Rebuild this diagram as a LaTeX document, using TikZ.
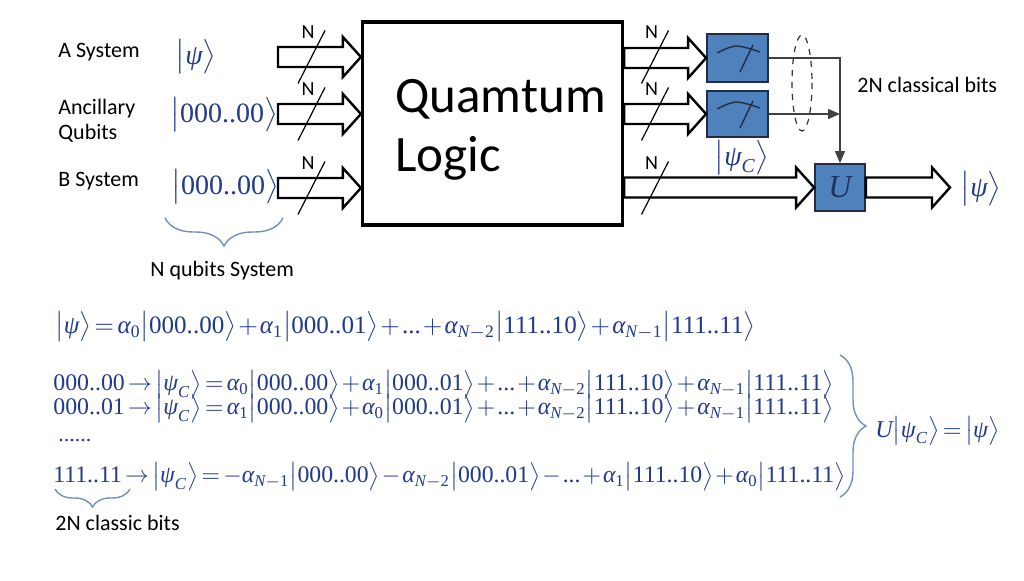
\documentclass[tikz,border=0pt]{standalone}
\usepackage{amsmath}
\usepackage{fontspec}
\setmainfont{Carlito}
\newfontfamily\tms{Liberation Serif}
\usetikzlibrary{calc,arrows.meta,decorations.pathreplacing}
\definecolor{mblue}{RGB}{32,58,140}
\definecolor{boxfill}{RGB}{79,129,189}
\definecolor{boxline}{RGB}{35,45,65}
\definecolor{bracecol}{RGB}{110,145,190}
\newcommand\ket[1]{\bigl|#1\bigr\rangle}
\newcommand\tx[1]{\text{\tms #1}}
\newcommand\ti[1]{\text{\tms\itshape #1}}
\newcommand\gp{\ti{ψ}}
\newcommand\ga{\ti{α}}
\newcommand\tight{\thickmuskip=2.5mu\medmuskip=1.5mu}
\newcommand\fatarrow[2]{\path[fatarrow] let \p1=(#1), \p2=(#2) in
  (\x1,\y1-5pt) -- (\x2-9pt,\y1-5pt) -- (\x2-9pt,\y1-10pt) -- (\x2,\y1)
  -- (\x2-9pt,\y1+10pt) -- (\x2-9pt,\y1+5pt) -- (\x1,\y1+5pt) -- cycle;}
\newcommand\nslash[3]{\draw[slashline] (#2-13.5,#3+26.5) -- (#2+13.5,#3-26.5);
  \node[nlabel] (#1) at (#2-3.5,#3-25) {N};}
\begin{document}
\begin{tikzpicture}[x=0.5pt,y=-0.5pt,
  fatarrow/.style={draw=black,fill=white,line width=1.2pt,line join=miter},
  slashline/.style={draw=black,line width=0.6pt},
  nlabel/.style={font=\fontsize{10}{12}\selectfont,inner sep=0pt},
  lbl/.style={font=\fontsize{11}{13}\selectfont,inner sep=0pt,anchor=base west},
  mth/.style={text=mblue,inner sep=0pt},
  meter/.style={draw=boxline,fill=boxfill,line width=0.9pt,inner sep=0pt},
  cline/.style={draw=black!75,line width=0.6pt},
  bigbrace/.style={draw=bracecol,line width=0.7pt,decorate}
]
\useasboundingbox (0,0) rectangle (1024,581);
\fill[white] (0,0) rectangle (1024,581);

% left labels
\node[lbl] (la) at (58,58) {A System};
\node[lbl,align=left] (lanc) at (58,140) {Ancillary\\[-0.5pt]Qubits};
\node[lbl] (lb) at (58,187) {B System};

% input kets
\node[mth,font=\fontsize{14}{16}\selectfont] (ka) at (196,57) {$\ket{\gp}$};
\node[mth,font=\fontsize{14}{16}\selectfont] (kb) at (224,115) {$\ket{\tx{000..00}}$};
\node[mth,font=\fontsize{14}{16}\selectfont] (kc) at (225,187) {$\ket{\tx{000..00}}$};

\draw[bigbrace,decoration={brace,mirror,amplitude=14pt}] (165,218) -- (283,218);
\node[lbl] (lq) at (150,277) {N qubits System};

% big box
\node[draw=black,line width=1.6pt,minimum width=130pt,minimum height=101.5pt,inner sep=0pt] (logic) at (492.5,123.5) {};
\node[font=\fontsize{25.5}{30}\selectfont,anchor=base west,inner sep=0pt] (t1) at (395,113) {Quamtum};
\node[font=\fontsize{25.5}{30}\selectfont,anchor=base west,inner sep=0pt] (t2) at (395,172) {Logic};

% input arrows
\coordinate (ia) at (278,57);
\coordinate (ib) at (278,114);
\coordinate (ic) at (278,188);
\fatarrow{ia}{logic.west |- ia}
\fatarrow{ib}{logic.west |- ib}
\fatarrow{ic}{logic.west |- ic}
\nslash{n1}{311.5}{57}
\nslash{n2}{311.5}{114}
\nslash{n3}{311.5}{188}

% meters and U
\node[meter,minimum width=30.5pt,minimum height=24pt] (m1) at (737.5,58) {};
\node[meter,minimum width=30.5pt,minimum height=23pt] (m2) at (737.5,114) {};
\node[meter,minimum width=25pt,minimum height=23.5pt,font=\fontsize{16}{18}\selectfont,text=boxline!60!mblue] (U) at (840,187.5) {$\ti{U}$};
\foreach \m in {m1,m2}{
  \draw[boxline,line width=0.7pt] ([shift={(-20.5,-5)}]\m.center) .. controls ([shift={(-2,-14)}]\m.center) .. ([shift={(22.5,-6)}]\m.center);
  \draw[boxline,line width=0.7pt] ([shift={(2.5,14)}]\m.center) -- ([shift={(15.5,-13)}]\m.center);
}

% output arrows
\coordinate (oa) at (logic.east |- m1.west);
\coordinate (ob) at (logic.east |- m2.west);
\coordinate (oc) at (logic.east |- U.west);
\fatarrow{oa}{m1.west}
\fatarrow{ob}{m2.west}
\fatarrow{oc}{U.west}
\nslash{n4}{655}{57}
\nslash{n5}{655}{114}
\nslash{n6}{655}{188}
\coordinate (oend) at (950,187.5);
\fatarrow{U.east}{oend}
\node[mth,font=\fontsize{14}{16}\selectfont] (kout) at (981,189) {$\ket{\gp}$};

% classical wires
\draw[cline,-{Triangle[length=6pt,width=5pt]}] (m1.east) -| (U.north);
\draw[cline,-{Triangle[length=6pt,width=5pt]}] (m2.east) -- (U.north |- m2.east);
\draw[black!80,dashed,line width=0.6pt] (802,83) ellipse [x radius=10,y radius=48];
\node[lbl] (lcb) at (857,93) {2N classical bits};
\node[mth,font=\fontsize{14}{16}\selectfont] (kpc) at (742,158) {$\ket{\gp_{\ti{C}}}$};

% equations
\node[mth,anchor=west] (e1) at (55,327) {\resizebox{350pt}{!}{$\tight\ket{\gp}=\ga_{\tx{0}}\ket{\tx{000..00}}+\ga_{\tx{1}}\ket{\tx{000..01}}+\tx{...}+\ga_{\ti{N}-\tx{2}}\ket{\tx{111..10}}+\ga_{\ti{N}-\tx{1}}\ket{\tx{111..11}}$}};
\node[mth,anchor=west] (e2) at (53,385) {\resizebox{390pt}{!}{$\tight\tx{000..00}\rightarrow\ket{\gp_{\ti{C}}}=\ga_{\tx{0}}\ket{\tx{000..00}}+\ga_{\tx{1}}\ket{\tx{000..01}}+\tx{...}+\ga_{\ti{N}-\tx{2}}\ket{\tx{111..10}}+\ga_{\ti{N}-\tx{1}}\ket{\tx{111..11}}$}};
\node[mth,anchor=west] (e3) at (53,409) {\resizebox{390pt}{!}{$\tight\tx{000..01}\rightarrow\ket{\gp_{\ti{C}}}=\ga_{\tx{1}}\ket{\tx{000..00}}+\ga_{\tx{0}}\ket{\tx{000..01}}+\tx{...}+\ga_{\ti{N}-\tx{2}}\ket{\tx{111..10}}+\ga_{\ti{N}-\tx{1}}\ket{\tx{111..11}}$}};
\node[mth,anchor=west,font=\fontsize{11}{13}\selectfont\tms] (edots) at (58,441) {......};
\node[mth,anchor=west] (e4) at (53,477) {\resizebox{396pt}{!}{$\tight\tx{111..11}\rightarrow\ket{\gp_{\ti{C}}}=-\ga_{\ti{N}-\tx{1}}\ket{\tx{000..00}}-\ga_{\ti{N}-\tx{2}}\ket{\tx{000..01}}-\tx{...}+\ga_{\tx{1}}\ket{\tx{111..10}}+\ga_{\tx{0}}\ket{\tx{111..11}}$}};
\draw[bigbrace,decoration={brace,amplitude=13pt}] (840,355) -- (840,497);
\node[mth,anchor=west] (eU) at (875,431) {\resizebox{62pt}{!}{$\tight\ti{U}\ket{\gp_{\ti{C}}}=\ket{\gp}$}};
\draw[bigbrace,decoration={brace,mirror,amplitude=9pt}] (55,489) -- (130,489);
\node[lbl] (lcl) at (55,531) {2N classic bits};
\end{tikzpicture}
\end{document}
